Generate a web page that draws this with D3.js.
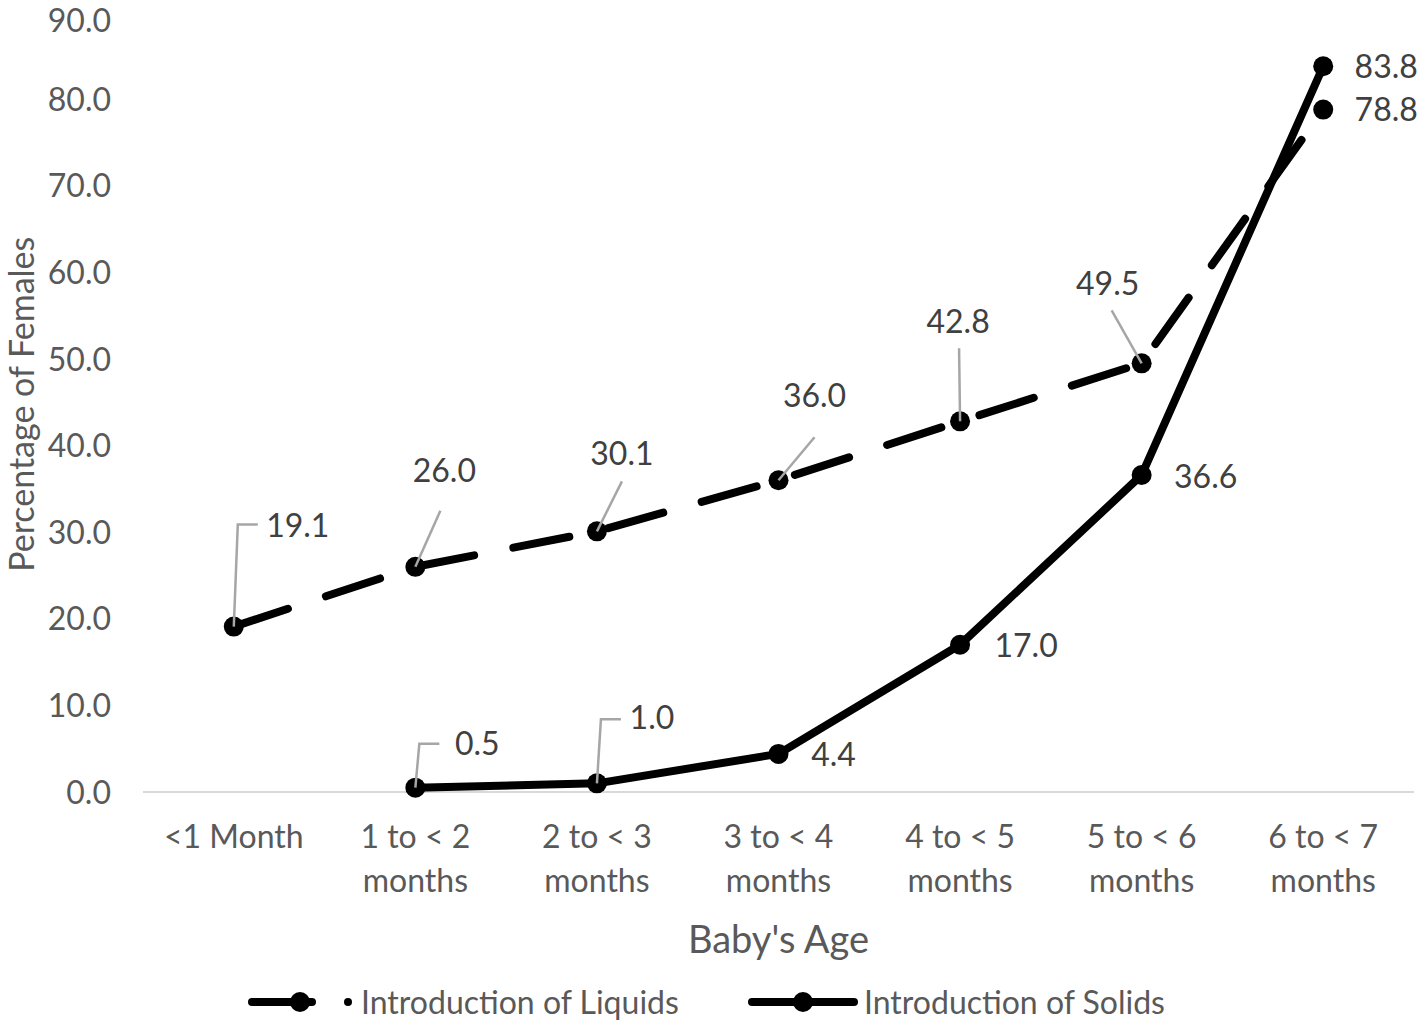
<!DOCTYPE html>
<html><head><meta charset="utf-8">
<script src="https://cdn.jsdelivr.net/npm/d3@7"></script>
<style>body{margin:0;background:#fff}svg{display:block}</style>
</head><body>
<script>
const categories = ["<1 Month", "1 to < 2|months", "2 to < 3|months", "3 to < 4|months", "4 to < 5|months", "5 to < 6|months", "6 to < 7|months"];
const liquids = [19.1, 26.0, 30.1, 36.0, 42.8, 49.5, 78.8];
const solids = [null, 0.5, 1.0, 4.4, 17.0, 36.6, 83.8];
const yTicks = [0, 10, 20, 30, 40, 50, 60, 70, 80, 90];
const seriesNames = ["Introduction of Liquids", "Introduction of Solids"];

const W = 1417, H = 1020;
const FONT = "Lato, 'Open Sans', sans-serif";
const TXT = "#595959";
const FS = 32;
const svg = d3.select("body").append("svg").attr("width", W).attr("height", H);

const x = d3.scaleBand().domain(d3.range(categories.length)).range([143, 1414]);
const cx = i => x(i) + x.bandwidth() / 2;
const y = d3.scaleLinear().domain([0, 90]).range([792, 12.6]);

// x axis line
svg.append("line").attr("x1", 143).attr("x2", 1414).attr("y1", y(0)).attr("y2", y(0))
  .attr("stroke", "#d9d9d9").attr("stroke-width", 2);

// y tick labels
svg.selectAll("text.yt").data(yTicks).enter().append("text")
  .attr("x", 111).attr("y", d => y(d) + (d === 90 ? 8 : 0)).attr("dy", "0.36em")
  .attr("text-anchor", "end").attr("font-family", FONT).attr("font-size", FS)
  .attr("fill", TXT).text(d => d.toFixed(1));

// x category labels
categories.forEach((c, i) => {
  const lines = c.split("|");
  const t = svg.append("text").attr("text-anchor", "middle").attr("font-family", FONT)
    .attr("font-size", FS).attr("fill", TXT);
  lines.forEach((l, k) => {
    t.append("tspan").attr("x", cx(i)).attr("y", 848 + k * 44).text(l);
  });
});

// axis titles
svg.append("text").attr("x", cx(3)).attr("y", 953).attr("text-anchor", "middle")
  .attr("font-family", FONT).attr("font-size", 38).attr("fill", TXT).text("Baby's Age");
svg.append("text").attr("transform", `translate(34,${y(45) + 2}) rotate(-90)`)
  .attr("text-anchor", "middle").attr("font-family", FONT).attr("font-size", 34)
  .attr("fill", TXT).text("Percentage of Females");

const line = d3.line().defined(d => d[1] != null).x(d => cx(d[0])).y(d => y(d[1]));
const liqPts = liquids.map((v, i) => [i, v]);
const solPts = solids.map((v, i) => [i, v]);

// solids line
svg.append("path").attr("d", line(solPts)).attr("fill", "none").attr("stroke", "#000")
  .attr("stroke-width", 8).attr("stroke-linejoin", "round").attr("stroke-linecap", "round");
// liquids dashed line
svg.append("path").attr("d", line(liqPts)).attr("fill", "none").attr("stroke", "#000")
  .attr("stroke-width", 8).attr("stroke-linejoin", "round").attr("stroke-linecap", "round")
  .attr("stroke-dasharray", "57,40");

// leader lines (grey), defined relative to the data point
const leaderStroke = "#a6a6a6";
function leader(pts) {
  svg.append("path").attr("d", d3.line()(pts)).attr("fill", "none")
    .attr("stroke", leaderStroke).attr("stroke-width", 2.5);
}

// markers
svg.selectAll("circle.liq").data(liqPts).enter().append("circle")
  .attr("cx", d => cx(d[0])).attr("cy", d => y(d[1])).attr("r", 10).attr("fill", "#000");
svg.selectAll("circle.sol").data(solPts.filter(d => d[1] != null)).enter().append("circle")
  .attr("cx", d => cx(d[0])).attr("cy", d => y(d[1])).attr("r", 10).attr("fill", "#000");

const liqLeaders = [
  [[0, 0], [4, -102], [24, -102]],
  [[0, 0], [25, -56]],
  [[0, 0], [25, -50]],
  [[0, 0], [36, -43]],
  [[0, 0], [-1, -73]],
  [[0, 0], [-30, -53]],
  null
];
const solLeaders = [null, [[0, 0], [4, -44], [24, -44]], [[0, 0], [4, -64], [24, -64]], null, null, null, null];
liqLeaders.forEach((L, i) => { if (L) leader(L.map(p => [cx(i) + p[0], y(liquids[i]) + p[1]])); });
solLeaders.forEach((L, i) => { if (L) leader(L.map(p => [cx(i) + p[0], y(solids[i]) + p[1]])); });

const liqLabelOff = [[64, -101], [29, -96], [25, -78], [36, -85], [-2, -100], [-34, -80], [63, 0]];
const solLabelOff = [null, [62, -44], [55, -66], [55, 1], [66, 1], [64, 1], [63, 0]];
function label(px, py, off, v) {
  svg.append("text").attr("x", px + off[0]).attr("y", py + off[1]).attr("dy", "0.36em")
    .attr("text-anchor", "middle").attr("font-family", FONT).attr("font-size", FS)
    .attr("fill", "#404040").text(v.toFixed(1));
}
liquids.forEach((v, i) => label(cx(i), y(v), liqLabelOff[i], v));
solids.forEach((v, i) => { if (v != null) label(cx(i), y(v), solLabelOff[i], v); });

// legend
const ly = 1002;
const lg = svg.append("g");
lg.append("line").attr("x1", 252).attr("x2", 312).attr("y1", ly).attr("y2", ly)
  .attr("stroke", "#000").attr("stroke-width", 8).attr("stroke-linecap", "round");
lg.append("circle").attr("cx", 300).attr("cy", ly).attr("r", 10).attr("fill", "#000");
lg.append("circle").attr("cx", 348).attr("cy", ly).attr("r", 4).attr("fill", "#000");
lg.append("text").attr("x", 361).attr("y", ly).attr("dy", "0.36em").attr("font-family", FONT)
  .attr("font-size", FS).attr("fill", TXT).text(seriesNames[0]);
lg.append("line").attr("x1", 752).attr("x2", 854).attr("y1", ly).attr("y2", ly)
  .attr("stroke", "#000").attr("stroke-width", 8).attr("stroke-linecap", "round");
lg.append("circle").attr("cx", 803).attr("cy", ly).attr("r", 10).attr("fill", "#000");
lg.append("text").attr("x", 864).attr("y", ly).attr("dy", "0.36em").attr("font-family", FONT)
  .attr("font-size", FS).attr("fill", TXT).text(seriesNames[1]);
</script>
</body></html>
